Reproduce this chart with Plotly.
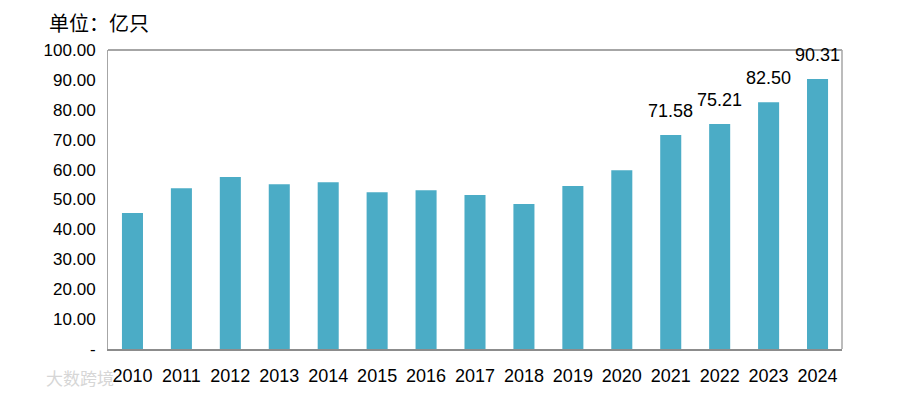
import plotly.graph_objects as go

years = ["2010", "2011", "2012", "2013", "2014", "2015", "2016", "2017",
         "2018", "2019", "2020", "2021", "2022", "2023", "2024"]
values = [45.5, 53.8, 57.5, 55.1, 55.8, 52.4, 53.1, 51.5, 48.5, 54.5, 59.8,
          71.58, 75.21, 82.50, 90.31]
labelled_years = ["2021", "2022", "2023", "2024"]
y_tickvals = [0, 10, 20, 30, 40, 50, 60, 70, 80, 90, 100]
y_ticktext = ["-", "10.00", "20.00", "30.00", "40.00", "50.00", "60.00",
              "70.00", "80.00", "90.00", "100.00"]
unit_text = "单位：亿只"
watermark_text = "大数跨境"

FONT = "Liberation Sans, Arial, sans-serif"
PLOT_W, PLOT_H = 734, 301

annotations = []
for i, (yr, v) in enumerate(zip(years, values)):
    if yr in labelled_years:
        annotations.append(dict(
            x=i, y=v, xref="x", yref="y",
            text=f"{v:.2f}", showarrow=False,
            xanchor="center", yanchor="bottom", yshift=12,
            font=dict(family=FONT, size=18, color="#000000"),
        ))

annotations.append(dict(
    text=unit_text, showarrow=False, xref="paper", yref="paper",
    x=-61 / PLOT_W, y=1 + 28 / PLOT_H, xanchor="left", yanchor="middle",
    font=dict(family="Noto Sans CJK SC", size=20, color="#000000"),
))
annotations.append(dict(
    text=watermark_text, showarrow=False, xref="paper", yref="paper",
    x=-64 / PLOT_W, y=-29 / PLOT_H, xanchor="left", yanchor="middle",
    font=dict(family="Noto Sans CJK SC", size=17, color="#D6D6D6"),
))

fig = go.Figure()
fig.add_trace(go.Bar(
    x=years, y=values,
    marker=dict(color="#4BACC6", line=dict(width=0)),
    hoverinfo="x+y",
))

fig.update_layout(
    width=908, height=398,
    margin=dict(l=108, r=66, t=50, b=47),
    paper_bgcolor="white", plot_bgcolor="white",
    bargap=0.57,
    showlegend=False,
    font=dict(family=FONT, size=17, color="#000000"),
    annotations=annotations,
    xaxis=dict(
        type="category", categoryorder="array", categoryarray=years,
        range=[-0.5, len(years) - 0.5], autorange=False,
        showgrid=False, ticks="", ticklen=0,
        ticklabelstandoff=9,
        showline=True, linecolor="#8C8C8C", linewidth=2,
        tickfont=dict(family=FONT, size=18, color="#000000"),
        fixedrange=True,
    ),
    yaxis=dict(
        range=[0, 100], autorange=False,
        tickvals=y_tickvals, ticktext=y_ticktext,
        showgrid=False, zeroline=False, ticks="", ticklen=0,
        ticklabelstandoff=8,
        showline=True, linecolor="#A6A6A6", linewidth=1,
        tickfont=dict(family=FONT, size=17, color="#000000"),
        fixedrange=True,
    ),
    shapes=[
        dict(type="line", xref="paper", yref="paper", x0=0, x1=1, y0=1, y1=1,
             line=dict(color="#A6A6A6", width=2)),
        dict(type="line", xref="paper", yref="paper", x0=1, x1=1, y0=0, y1=1,
             line=dict(color="#A6A6A6", width=1.5)),
    ],
)

fig.write_html(
    "out.html",
    config={"displayModeBar": False},
    post_script="document.body.style.margin='0';document.body.style.overflow='hidden';",
)
